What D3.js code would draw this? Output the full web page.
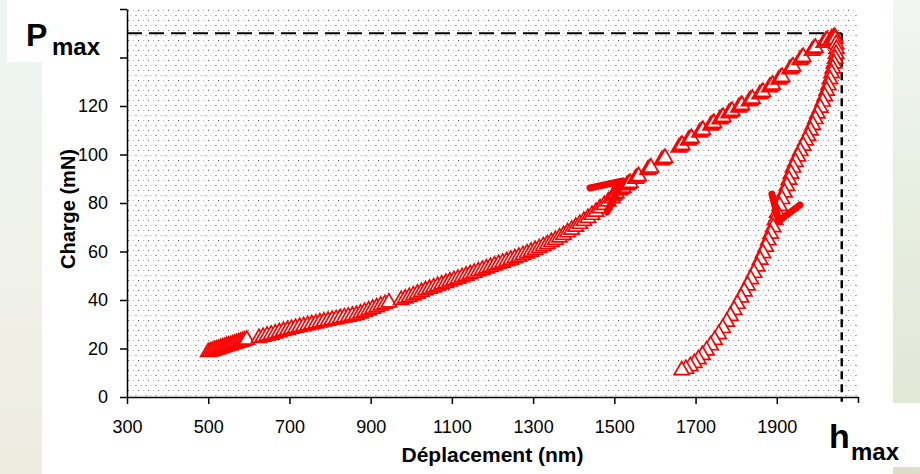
<!DOCTYPE html>
<html><head><meta charset="utf-8">
<script src="https://cdn.jsdelivr.net/npm/d3@7"></script>
<style>
html,body{margin:0;padding:0;width:920px;height:474px;overflow:hidden;background:#eef2ea;}
svg{display:block;font-family:"Liberation Sans",Arial,sans-serif;}
</style></head><body>
<svg id="c" width="920" height="474"></svg>
<script>
// ---- data ----
const xTicks = [300,500,700,900,1100,1300,1500,1700,1900,2100];
const yTicks = [0,20,40,60,80,100,120,140,160];
const hiddenTickLabels = [140,160,2100]; // covered by the Pmax / hmax label boxes
const PMAX = 150;
const HMAX = 2060;

const loadX = [
 500,505,510,515,520,525,530,535,540,545,550,555,560,565,570,575,580,585,590,595,
 625,635,645,655,665,675,685,695,705,715,725,735,745,755,765,775,785,795,805,815,825,835,845,855,865,875,885,895,905,915,925,935,945,
 975,985,995,1005,1015,1025,1035,1045,1055,1065,1075,1085,1095,1105,1115,1125,1135,1145,1155,1165,1175,1185,1195,1205,1215,1225,1235,1245,1255,1265,1275,1285,1295,1305,1315,1325,1335,1345,1355,1365,1375,1385,1395,1405,1415,1425,1435,1445,1455,1465,1475,1485,1495,
 1497,1501,1505, 1514,1518,1522, 1531,1535,1539, 1552,1556,1560, 1582,1586,1590, 1617,1621,1625, 1659,1663,1667, 1682,1686,1690, 1710,1714,1718, 1737,1741,1745, 1760,1764,1768, 1782,1786,1790, 1806,1810,1814, 1832,1836,1840, 1858,1862,1866, 1882,1886,1890, 1905,1909,1913, 1932,1936,1940, 1957,1961,1965, 1987,1991,1995, 2016,2020,2024, 2035,2039,2043
];
const loadY = [
 18.5,18.8,19.0,19.3,19.6,19.8,20.1,20.4,20.6,20.9,21.2,21.4,21.7,22.0,22.3,22.5,22.8,23.1,23.3,23.6,
 24.3,24.8,25.3,25.7,26.2,26.7,27.2,27.6,28.1,28.5,28.9,29.2,29.6,30.0,30.3,30.7,31.1,31.4,31.8,32.1,32.5,32.8,33.1,33.5,33.8,34.4,35.1,35.7,36.4,37.0,37.7,38.3,39.0,
 40.0,40.6,41.2,41.9,42.6,43.3,44.0,44.6,45.2,45.8,46.4,47.0,47.6,48.2,48.8,49.4,50.0,50.6,51.2,51.8,52.4,53.0,53.6,54.2,54.8,55.4,56.0,56.6,57.2,57.8,58.5,59.2,59.9,60.6,61.4,62.2,63.0,63.9,64.8,65.8,66.8,67.9,69.0,70.2,71.4,72.6,73.8,75.1,76.4,77.8,79.2,80.6,82.0,
 83.0,83.5,84.0, 85.3,85.8,86.3, 87.3,87.8,88.3, 90.0,90.5,91.0, 93.6,94.1,94.6, 97.6,98.1,98.6, 102.9,103.4,103.9, 105.8,106.3,106.8, 109.1,109.6,110.1, 112.0,112.5,113.0, 114.5,115.0,115.5, 117.0,117.5,118.0, 119.4,119.9,120.4, 122.0,122.5,123.0, 124.8,125.3,125.8, 127.7,128.2,128.8, 130.9,131.5,132.0, 135.1,135.7,136.3, 139.0,139.6,140.2, 142.8,143.4,144.0, 146.1,146.7,147.2, 147.8,148.2,148.5
];
const unloadX = [
 2044,2046,2047,2046,2044,2041,2038,2035,2031,2027,2023,2018,2013,2007,2000,1995,1989,1983,1977,1971,1965,1958,1952,1946,1940,1935,1930,1925,1919,1913,1907,1901,1896,1891,1885,1879,1873,1866,1859,1852,1844,1836,1828,1820,1812,1803,1795,1786,1777,1767,1757,1747,1737,1727,1717,1707,1697,1687,1676,1666
];
const unloadY = [
 147.5,145.5,143.5,141.5,139.5,137.5,135.5,133.5,131.0,128.5,126.3,124.0,121.8,119.3,116.9,114.6,112.2,109.9,107.6,105.8,103.6,101.4,99.2,96.9,94.6,92.1,89.6,87.0,84.3,81.6,78.8,76.0,73.0,70.0,67.3,64.6,62.0,59.3,56.6,53.8,51.2,48.6,46.0,43.5,41.0,38.4,35.9,33.4,31.0,28.4,25.9,23.5,21.3,19.2,17.3,15.6,14.0,12.7,11.6,11.0
];
// annotation arrows (data coords: arm end, tip, arm end)
const arrowUp = [[1440,86.2],[1521,89.1],[1482,76.3]];
const arrowDown = [[1888,83.7],[1905,72.6],[1957,79.2]];

// ---- drawing ----
const svg = d3.select("#c");
const x = d3.scaleLinear().domain([300,2100]).range([127,858]);
const y = d3.scaleLinear().domain([0,160]).range([397,9]);

const defs = svg.append("defs");
const gl = defs.append("linearGradient").attr("id","bgL").attr("x1",0).attr("y1",0).attr("x2",0).attr("y2",1);
gl.append("stop").attr("offset","0").attr("stop-color","#edf5f3");
gl.append("stop").attr("offset","0.5").attr("stop-color","#f0f2ea");
gl.append("stop").attr("offset","1").attr("stop-color","#eeebe1");
const gr = defs.append("linearGradient").attr("id","bgR").attr("x1",0).attr("y1",0).attr("x2",0).attr("y2",1);
gr.append("stop").attr("offset","0").attr("stop-color","#f1f6f1");
gr.append("stop").attr("offset","0.4").attr("stop-color","#e7efe2");
gr.append("stop").attr("offset","0.85").attr("stop-color","#e2e8d6");
gr.append("stop").attr("offset","1").attr("stop-color","#dcdcc9");
const pat = defs.append("pattern").attr("id","dots").attr("patternUnits","userSpaceOnUse")
  .attr("x",127).attr("y",9).attr("width",10).attr("height",10);
pat.append("rect").attr("x",1).attr("y",1).attr("width",1).attr("height",1).attr("fill","#555");
pat.append("rect").attr("x",6).attr("y",1).attr("width",1).attr("height",1).attr("fill","#bbb");
pat.append("rect").attr("x",3.5).attr("y",6).attr("width",1).attr("height",1).attr("fill","#bbb");
pat.append("rect").attr("x",8.5).attr("y",6).attr("width",1).attr("height",1).attr("fill","#555");

svg.append("rect").attr("width",920).attr("height",474).attr("fill","url(#bgL)");
svg.append("rect").attr("x",893).attr("width",27).attr("height",474).attr("fill","url(#bgR)");
svg.append("rect").attr("x",42).attr("width",851).attr("height",474).attr("fill","#fff");

// plot area
svg.append("rect").attr("x",x(300)).attr("y",y(160))
  .attr("width",x(2100)-x(300)).attr("height",y(0)-y(160)).attr("fill","url(#dots)");

// axes
const fmt = d => hiddenTickLabels.includes(d) ? "" : d3.format("d")(d);
const ax = svg.append("g").attr("transform",`translate(0,${y(0)})`)
  .call(d3.axisBottom(x).tickValues(xTicks).tickSize(7).tickSizeOuter(0).tickPadding(16).tickFormat(fmt));
const ay = svg.append("g").attr("transform",`translate(${x(300)},0)`)
  .call(d3.axisLeft(y).tickValues(yTicks).tickSize(7).tickSizeOuter(0).tickPadding(12).tickFormat(fmt));
[ax,ay].forEach(g=>{
  g.selectAll("path,line").attr("stroke","#000").attr("stroke-width",1.5);
  g.selectAll("text").attr("fill","#000").style("font-size","18px").style("font-family","'Liberation Sans',Arial,sans-serif");
});

// dashed reference lines
svg.append("line").attr("x1",x(300)).attr("x2",x(HMAX)).attr("y1",y(PMAX)).attr("y2",y(PMAX))
  .attr("stroke","#000").attr("stroke-width",2.2).attr("stroke-dasharray","15,7");
svg.append("line").attr("x1",x(HMAX)).attr("x2",x(HMAX)).attr("y1",y(PMAX)).attr("y2",y(-2))
  .attr("stroke","#000").attr("stroke-width",2.5).attr("stroke-dasharray","8,5");

// markers
const tri = d3.symbol(d3.symbolTriangle, 100);
const loadPts = loadX.map((v,i)=>[v,loadY[i]]);
const unloadPts = unloadX.map((v,i)=>[v,unloadY[i]]);
const mk = svg.append("g");
mk.selectAll("path.l").data(loadPts).join("path").attr("class","l")
  .attr("d",tri).attr("transform",d=>`translate(${x(d[0])},${y(d[1])})`)
  .attr("fill","#fff").attr("stroke","#ff0000").attr("stroke-width",1.7);
mk.selectAll("path.u").data(unloadPts).join("path").attr("class","u")
  .attr("d",tri).attr("transform",d=>`translate(${x(d[0])},${y(d[1])})`)
  .attr("fill","#fff").attr("stroke","#ff0000").attr("stroke-width",1.7);

// red hand-drawn arrows
const ln = d3.line().x(d=>x(d[0])).y(d=>y(d[1]));
[arrowUp,arrowDown].forEach(a=>{
  svg.append("path").attr("d",ln(a)).attr("fill","none").attr("stroke","#ff0000")
    .attr("stroke-width",7).attr("stroke-linecap","round").attr("stroke-linejoin","round");
});

// axis titles
svg.append("text").attr("x",(x(300)+x(2100))/2).attr("y",462).attr("text-anchor","middle")
  .style("font-size","21px").style("font-weight","bold").attr("fill","#000").text("Déplacement (nm)");
svg.append("text").attr("transform","translate(75,209) rotate(-90)").attr("text-anchor","middle")
  .style("font-size","20px").style("font-weight","bold").attr("fill","#000").text("Charge (mN)");

// label boxes
svg.append("rect").attr("x",7).attr("y",0).attr("width",112).attr("height",62).attr("fill","#fff");
svg.append("rect").attr("x",820).attr("y",403).attr("width",100).attr("height",64).attr("fill","#fff");
svg.append("text").attr("x",26).attr("y",46).style("font-size","32px").style("font-weight","bold").attr("fill","#000").text("P");
svg.append("text").attr("x",52).attr("y",55).style("font-size","24px").style("font-weight","bold").attr("fill","#000").text("max");
svg.append("text").attr("x",829).attr("y",448).style("font-size","34px").style("font-weight","bold").attr("fill","#000").text("h");
svg.append("text").attr("x",851).attr("y",460).style("font-size","24px").style("font-weight","bold").attr("fill","#000").text("max");
</script></body></html>
